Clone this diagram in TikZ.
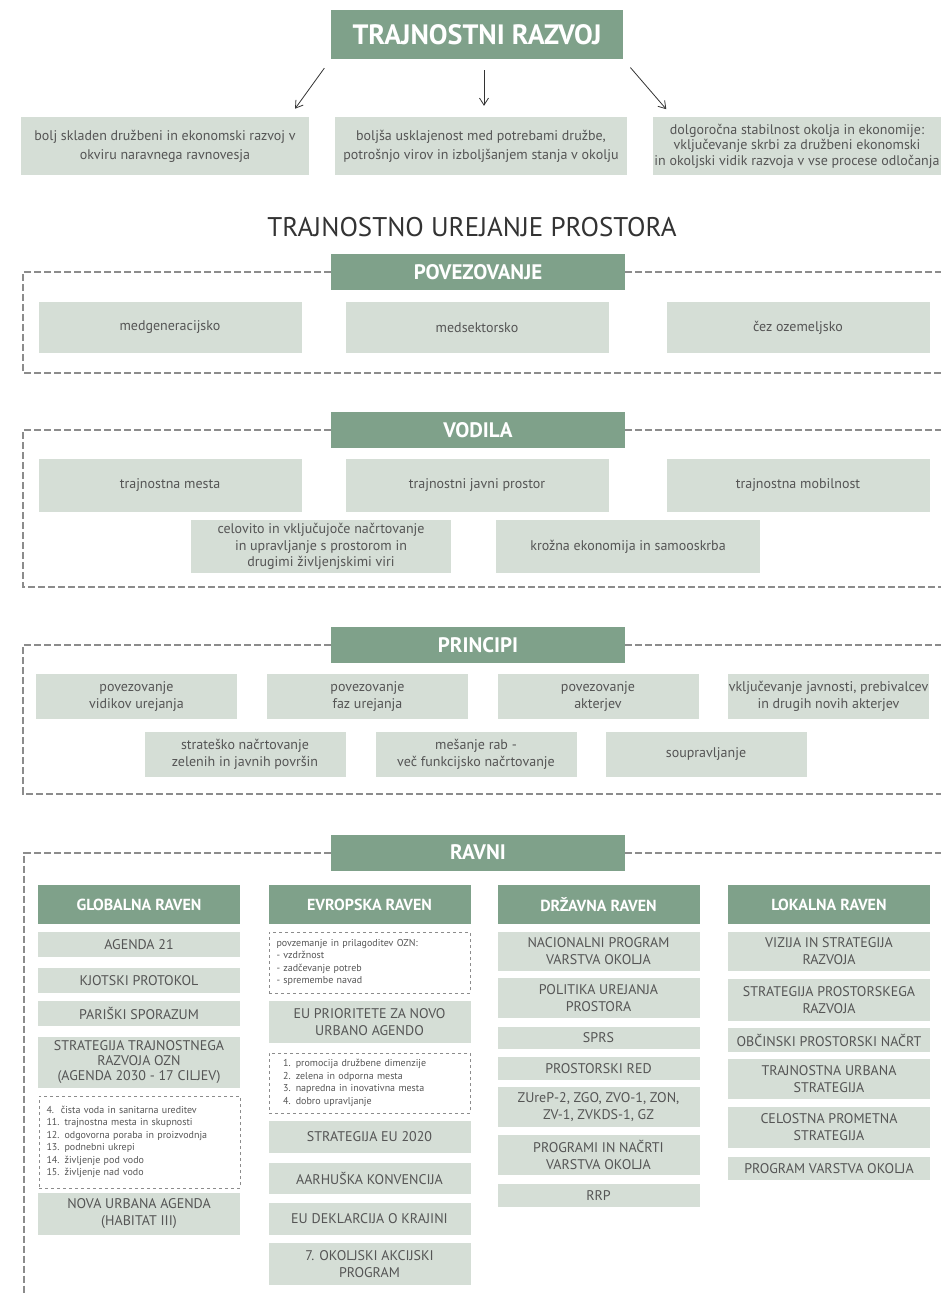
\documentclass[tikz,border=0pt]{standalone}
\usepackage{fontspec}
\setmainfont{PT Sans}
\usetikzlibrary{arrows.meta}
\definecolor{hdgreen}{RGB}{127,161,138}
\definecolor{boxgreen}{RGB}{213,222,214}
\definecolor{txtgray}{RGB}{85,85,85}
\definecolor{dashgray}{RGB}{140,140,140}

\begin{document}
\begin{tikzpicture}[x=1pt, y=-1pt, >={Straight Barb[length=7pt, width=9pt]},
    head/.style={fill=hdgreen, text=white, font=\bfseries\fontsize{21}{23}\selectfont, minimum width=294, minimum height=36},
    colhead/.style={fill=hdgreen, text=white, font=\bfseries\fontsize{16}{18}\selectfont, minimum width=202, minimum height=39},
    box/.style={fill=boxgreen, text=txtgray, align=center, inner sep=1pt, font=\fontsize{14}{17}\selectfont},
    item/.style={fill=boxgreen, text=txtgray, align=center, inner sep=1pt, minimum width=202, font=\fontsize{14}{17}\selectfont},
    note/.style={draw=dashgray, dashed, text=txtgray, align=left, text width=186, minimum width=201, font=\fontsize{10}{12.5}\selectfont},
    frame/.style={dashgray, line width=2pt, dash pattern=on 7pt off 3pt}]

    \useasboundingbox (0,0) rectangle (940,1295);

    % trajnostni razvoj
    \node[fill=hdgreen, text=white, font=\bfseries\fontsize{28}{30}\selectfont, minimum width=292, minimum height=49] (top) at (477,34.5) {TRAJNOSTNI RAZVOJ};
    \node[box, minimum width=288, minimum height=58, font=\fontsize{14}{19}\selectfont] (b1) at (165,146) {bolj skladen družbeni in ekonomski razvoj v\\okviru naravnega ravnovesja};
    \node[box, minimum width=292, minimum height=58, font=\fontsize{14}{19}\selectfont] (b2) at (481,146) {boljša usklajenost med potrebami družbe,\\potrošnjo virov in izboljšanjem stanja v okolju};
    \node[box, minimum width=288, minimum height=58, font=\fontsize{14}{15.5}\selectfont] (b3) at (797,146) {dolgoročna stabilnost okolja in ekonomije:\\vključevanje skrbi za družbeni ekonomski\\in okoljski vidik razvoja v vse procese odločanja};

    \draw[->, thick, black!80, shorten <=11pt, shorten >=10pt] (top.south west) -- ([xshift=-20pt]b1.north east);
    \draw[->, thick, black!80, shorten <=11pt, shorten >=11pt] ([xshift=7pt]top.south) -- ([xshift=3pt]b2.north);
    \draw[->, thick, black!80, shorten <=11pt, shorten >=10pt] (top.south east) -- ([xshift=20pt]b3.north west);

    \node[text=black!80, font=\fontsize{27}{30}\selectfont] (title) at (472,227) {TRAJNOSTNO UREJANJE PROSTORA};

    % povezovanje
    \node[head] (hpov) at (478,272) {POVEZOVANJE};
    \draw[frame] (hpov.west) -- (23,272) -- (23,373) -- (945,373);
    \draw[frame] (hpov.east) -- (945,272);
    \node[box, minimum width=263, minimum height=51] (pov1) at (170,327.5) {medgeneracijsko};
    \node[box, minimum width=263, minimum height=51] (pov2) at (477,327.5) {medsektorsko};
    \node[box, minimum width=263, minimum height=51] (pov3) at (798,327.5) {čez ozemeljsko};

    % vodila
    \node[head] (hvod) at (478,430) {VODILA};
    \draw[frame] (hvod.west) -- (23,430) -- (23,587) -- (945,587);
    \draw[frame] (hvod.east) -- (945,430);
    \node[box, minimum width=263, minimum height=53] (vod1) at (170,485.5) {trajnostna mesta};
    \node[box, minimum width=263, minimum height=53] (vod2) at (477,485.5) {trajnostni javni prostor};
    \node[box, minimum width=263, minimum height=53] (vod3) at (798,485.5) {trajnostna mobilnost};
    \node[box, minimum width=260, minimum height=53, font=\fontsize{14}{16.5}\selectfont] (vod4) at (321,546.5) {celovito in vključujoče načrtovanje\\in upravljanje s prostorom in\\drugimi življenjskimi viri};
    \node[box, minimum width=264, minimum height=53] (vod5) at (628,546.5) {krožna ekonomija in samooskrba};

    % principi
    \node[head] (hpri) at (478,645) {PRINCIPI};
    \draw[frame] (hpri.west) -- (23,645) -- (23,794) -- (945,794);
    \draw[frame] (hpri.east) -- (945,645);
    \node[box, minimum width=201, minimum height=45] (pri1) at (136.5,696.5) {povezovanje\\vidikov urejanja};
    \node[box, minimum width=201, minimum height=45] (pri2) at (367.5,696.5) {povezovanje\\faz urejanja};
    \node[box, minimum width=201, minimum height=45] (pri3) at (598,696.5) {povezovanje\\akterjev};
    \node[box, minimum width=201, minimum height=45] (pri4) at (828.5,696.5) {vključevanje javnosti, prebivalcev\\in drugih novih akterjev};
    \node[box, minimum width=201, minimum height=45] (pri5) at (245,754.5) {strateško načrtovanje\\zelenih in javnih površin};
    \node[box, minimum width=201, minimum height=45] (pri6) at (476,754.5) {mešanje rab -\\več funkcijsko načrtovanje};
    \node[box, minimum width=201, minimum height=45] (pri7) at (706,754.5) {soupravljanje};

    % ravni
    \node[head] (hrav) at (478,852.5) {RAVNI};
    \draw[frame] (hrav.west) -- (24,852.5) -- (24,1300);
    \draw[frame] (hrav.east) -- (945,852.5);

    \node[colhead] (glob) at (139,904.5) {GLOBALNA RAVEN};
    \node[colhead] (evro) at (369.5,904.5) {EVROPSKA RAVEN};
    \node[colhead] (drz) at (598.5,904.5) {DRŽAVNA RAVEN};
    \node[colhead] (lok) at (829,904.5) {LOKALNA RAVEN};

    % globalna raven
    \node[item, minimum height=25] (g1) at (139,944.5) {AGENDA 21};
    \node[item, minimum height=25] (g2) at (139,980.5) {KJOTSKI PROTOKOL};
    \node[item, minimum height=25] (g3) at (139,1013.5) {PARIŠKI SPORAZUM};
    \node[item, minimum height=51, font=\fontsize{14}{15}\selectfont] (g4) at (139,1062.5) {STRATEGIJA TRAJNOSTNEGA\\RAZVOJA OZN\\(AGENDA 2030 - 17 CILJEV)};
    \node[note, minimum height=92] (g5) at (139.5,1142) {4.\ \ čista voda in sanitarna ureditev\\11. trajnostna mesta in skupnosti\\12. odgovorna poraba in proizvodnja\\13. podnebni ukrepi\\14. življenje pod vodo\\15. življenje nad vodo};
    \node[item, minimum height=42] (g6) at (139,1214) {NOVA URBANA AGENDA\\(HABITAT III)};

    % evropska raven
    \node[note, minimum height=61] (e1) at (369.5,962.5) {povzemanje in prilagoditev OZN:\\- vzdržnost\\- zadčevanje potreb\\- spremembe navad};
    \node[item, minimum height=42] (e2) at (369.5,1022) {EU PRIORITETE ZA NOVO\\URBANO AGENDO};
    \node[note, minimum height=60] (e3) at (369.5,1083) {\ \ 1. promocija družbene dimenzije\\\ \ 2. zelena in odporna mesta\\\ \ 3. napredna in inovativna mesta\\\ \ 4. dobro upravljanje};
    \node[item, minimum height=32] (e4) at (369.5,1137) {STRATEGIJA EU 2020};
    \node[item, minimum height=31] (e5) at (369.5,1178.5) {AARHUŠKA KONVENCIJA};
    \node[item, minimum height=32] (e6) at (369.5,1219) {EU DEKLARCIJA O KRAJINI};
    \node[item, minimum height=42] (e7) at (369.5,1264) {7. OKOLJSKI AKCIJSKI\\PROGRAM};

    % drzavna raven
    \node[item, minimum height=39] (d1) at (598.5,951.5) {NACIONALNI PROGRAM\\VARSTVA OKOLJA};
    \node[item, minimum height=40] (d2) at (598.5,998) {POLITIKA UREJANJA\\PROSTORA};
    \node[item, minimum height=22] (d3) at (598.5,1038) {SPRS};
    \node[item, minimum height=23] (d4) at (598.5,1068.5) {PROSTORSKI RED};
    \node[item, minimum height=40] (d5) at (598.5,1107) {ZUreP-2, ZGO, ZVO-1, ZON,\\ZV-1, ZVKDS-1, GZ};
    \node[item, minimum height=40] (d6) at (598.5,1155) {PROGRAMI IN NAČRTI\\VARSTVA OKOLJA};
    \node[item, minimum height=23] (d7) at (598.5,1195.5) {RRP};

    % lokalna raven
    \node[item, minimum height=39] (l1) at (829,951.5) {VIZIJA IN STRATEGIJA\\RAZVOJA};
    \node[item, minimum height=42] (l2) at (829,1000) {STRATEGIJA PROSTORSKEGA\\RAZVOJA};
    \node[item, minimum height=24] (l3) at (829,1040) {OBČINSKI PROSTORSKI NAČRT};
    \node[item, minimum height=40] (l4) at (829,1079) {TRAJNOSTNA URBANA\\STRATEGIJA};
    \node[item, minimum height=41] (l5) at (829,1127.5) {CELOSTNA PROMETNA\\STRATEGIJA};
    \node[item, minimum height=23] (l6) at (829,1168.5) {PROGRAM VARSTVA OKOLJA};
\end{tikzpicture}
\end{document}
